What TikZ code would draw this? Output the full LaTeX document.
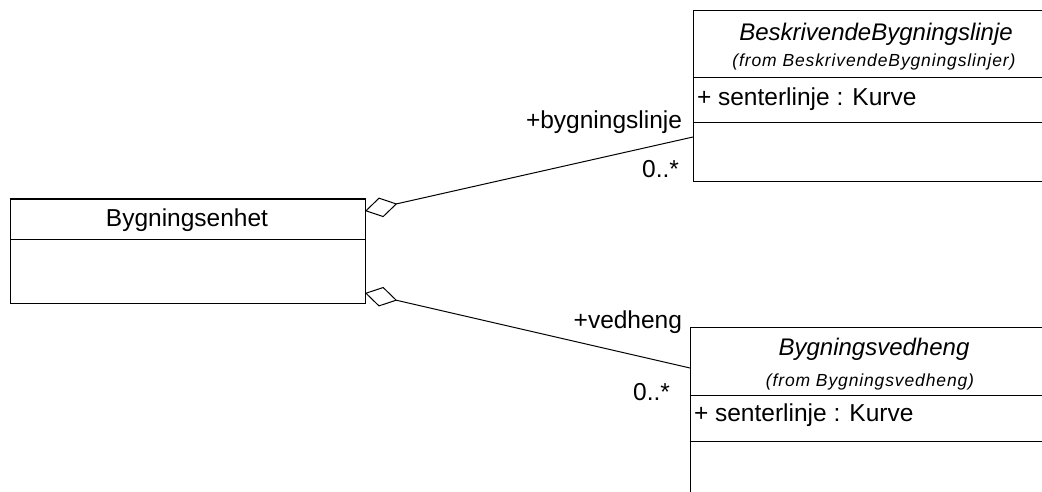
\documentclass[tikz,border=0pt]{standalone}
\usepackage{fontspec}
\setmainfont{Liberation Sans}
\usetikzlibrary{arrows.meta}
\begin{document}
\begin{tikzpicture}[x=1pt,y=-1pt,line width=1pt,
  every node/.style={inner sep=0pt,outer sep=0pt},
  txt/.style={font=\fontsize{24.5}{28}\selectfont},
  ttl/.style={font=\fontsize{24}{28}\selectfont\itshape},
  pkg/.style={font=\fontsize{17.5}{21}\selectfont\itshape\addfontfeature{LetterSpace=5}},
  cls/.style={draw,anchor=north west},
  agg/.style={{Diamond[open,length=33pt,width=20pt,line width=1pt]}-}]
\useasboundingbox (0,0) rectangle (1042,492);
\clip (0,0) rectangle (1042,492);
\fill[white] (0,0) rectangle (1042,492);

% Bygningsenhet
\node[cls,minimum width=355pt,minimum height=104pt] (enhet) at (10,199) {};
\draw (10,239) -- (365,239);
\node[txt] (enhetname) at (187,220) {Bygningsenhet};

% BeskrivendeBygningslinje
\node[cls,minimum width=400pt,minimum height=171pt] (linje) at (693,11) {};
\draw (693,78) -- (1093,78);
\draw (693,123) -- (1093,123);
\node[ttl] (linjename) at (876,34) {BeskrivendeBygningslinje};
\node[pkg] (linjepkg) at (874,62) {(from BeskrivendeBygningslinjer)};
\node[txt,anchor=west] (linjeattr) at (697,99) {+ senterlinje : Kurve};

% Bygningsvedheng
\node[cls,minimum width=400pt,minimum height=200pt] (vedheng) at (690,327) {};
\draw (690,395) -- (1090,395);
\draw (690,441) -- (1090,441);
\node[ttl] (vedhengname) at (874,349) {Bygningsvedheng};
\node[pkg] (vedhengpkg) at (870,382) {(from Bygningsvedheng)};
\node[txt,anchor=west] (vedhengattr) at (694,415) {+ senterlinje : Kurve};

% aggregations
\coordinate (a1) at (365,211);
\coordinate (b1) at (693,137);
\coordinate (a2) at (365,293);
\coordinate (b2) at (690,368);
\draw[agg] (a1) -- (b1);
\draw[agg] (a2) -- (b2);

% role names and multiplicities
\node[txt,anchor=east] (role1) at (682,122) {+bygningslinje};
\node[txt,anchor=east] (mult1) at (679,169) {0..*};
\node[txt,anchor=east] (role2) at (682,322) {+vedheng};
\node[txt,anchor=east] (mult2) at (670,392) {0..*};
\end{tikzpicture}
\end{document}
